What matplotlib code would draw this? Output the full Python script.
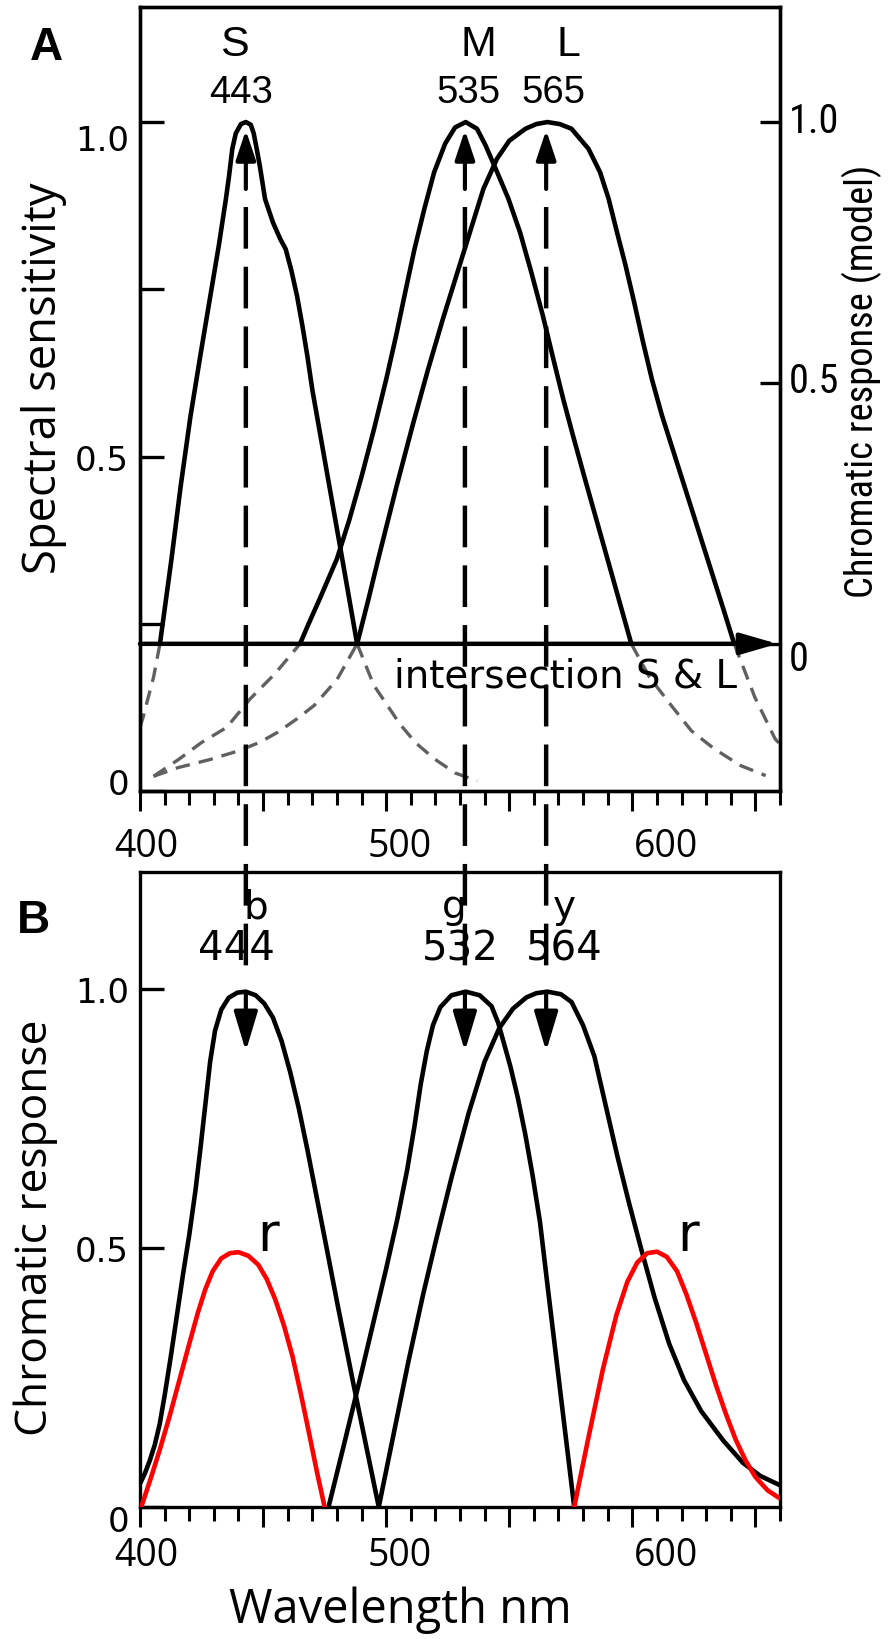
import numpy as np
import matplotlib
matplotlib.use("Agg")
import matplotlib.pyplot as plt
import matplotlib.transforms as mtransforms
from matplotlib import font_manager
from matplotlib.font_manager import FontProperties
from matplotlib.patches import ConnectionPatch

plt.rcParams['lines.scale_dashes'] = False


def find_condensed():
    pref = ['Liberation Sans Narrow', 'Roboto Condensed', 'Open Sans Condensed',
            'Noto Sans Condensed', 'Noto Sans', 'DejaVu Sans Condensed', 'Open Sans', 'Roboto']
    best = None
    for f in font_manager.fontManager.ttflist:
        nm, st = f.name, f.stretch
        cond = ('Narrow' in nm) or ('Condensed' in nm)
        if isinstance(st, str):
            cond = cond or st in ('condensed', 'semi-condensed')
        elif isinstance(st, (int, float)):
            cond = cond or (300 <= st < 500)
        if not cond or f.style != 'normal' or 'Mono' in nm or 'Serif' in nm:
            continue
        w = f.weight if isinstance(f.weight, (int, float)) else 400
        if w != 400:
            continue
        rank = next((i for i, p in enumerate(pref) if nm.startswith(p)), len(pref))
        if best is None or rank < best[0]:
            best = (rank, f.fname)
    return best[1] if best else None


_cond = find_condensed()
COND = FontProperties(fname=_cond) if _cond else FontProperties(family='Open Sans')

# ------------------------------------------------------------------ data
wl_min, wl_max = 400, 660
threshold_level = 0.22          # level of "intersection S & L" = zero of model axis

# Panel A: cone spectral sensitivities (left axis units)
S_nm = [400, 401.4, 403, 405.5, 408.1, 412.8, 416.5, 420.5, 424.7, 428.8,
        432, 434.9, 436.2, 437.5, 438.9, 441, 443, 445, 446.2, 447.4,
        448.7, 450.8, 454, 457, 459.2, 461.5, 463.8, 466, 468, 470,
        472.5, 476, 481.3, 488.2, 495, 505.6, 512, 519.6, 528, 537]
S_val = [0.095, 0.112, 0.135, 0.17, 0.22, 0.347, 0.455, 0.56, 0.655, 0.745,
         0.815, 0.885, 0.92, 0.96, 0.983, 0.997, 1.0, 0.996, 0.983, 0.96,
         0.934, 0.885, 0.85, 0.825, 0.81, 0.778, 0.74, 0.695, 0.65, 0.6,
         0.548, 0.475, 0.365, 0.22, 0.158, 0.1, 0.072, 0.048, 0.027, 0.015]

M_nm = [405.5, 416, 425, 435.2, 444.7, 455, 465, 468.5, 473.1, 480,
        485, 490, 495, 500, 504, 508, 511.5, 515.5, 519.5, 524,
        528, 532.3, 536.9, 540.4, 545.1, 549.7, 554.4, 559, 563.7, 568.3,
        572, 576, 580.8, 589.9, 599.6, 607, 615.9, 624, 633.3, 644, 654.2]
M_val = [0.022, 0.048, 0.0725, 0.095, 0.1375, 0.176, 0.22, 0.25, 0.288, 0.347,
         0.405, 0.47, 0.54, 0.615, 0.68, 0.75, 0.81, 0.87, 0.925, 0.968,
         0.992, 1.0, 0.99, 0.965, 0.925, 0.885, 0.835, 0.775, 0.71, 0.64,
         0.585, 0.53, 0.466, 0.347, 0.22, 0.17, 0.1275, 0.09, 0.063, 0.038, 0.023]

L_nm = [405.5, 415.5, 428.4, 440, 448.8, 456, 463.8, 470.8, 480.1, 488.2,
        492.9, 496.8, 504.4, 511, 517, 523, 528.5, 534, 539.5, 545,
        550, 556.6, 561, 565.5, 570.5, 575.3, 582.2, 586.9, 590.4, 593.8,
        597.3, 600.8, 604.3, 608, 612, 617, 622, 627, 632, 637, 641.4,
        649.8, 658, 660]
L_val = [0.022, 0.035, 0.047, 0.06, 0.073, 0.088, 0.108, 0.128, 0.167, 0.22,
         0.288, 0.347, 0.458, 0.55, 0.63, 0.705, 0.77, 0.835, 0.9, 0.945,
         0.972, 0.99, 0.997, 1.0, 0.997, 0.99, 0.96, 0.925, 0.885, 0.835,
         0.785, 0.73, 0.672, 0.615, 0.562, 0.504, 0.446, 0.388, 0.33, 0.272, 0.22,
         0.14, 0.078, 0.07]

# Panel B: chromatic responses
b_nm = [400, 402, 404, 406, 408, 410, 412.5, 415, 417.5, 420,
        422.5, 424.5, 426.5, 428.5, 430.5, 433, 436, 439.5, 443, 447,
        450.5, 454, 457.5, 461, 464.5, 468, 471.5, 475, 480.5, 486.6,
        492, 497]
b_val = [0.045, 0.065, 0.09, 0.12, 0.16, 0.215, 0.29, 0.37, 0.45, 0.525,
         0.61, 0.69, 0.775, 0.86, 0.92, 0.96, 0.983, 0.993, 0.995, 0.988,
         0.972, 0.945, 0.9, 0.84, 0.77, 0.69, 0.605, 0.52, 0.385, 0.24,
         0.115, 0.0]

g_nm = [476.6, 483, 489, 495, 500, 504.5, 508.5, 511.5, 514, 516.5,
        519, 522, 526.5, 532.3, 538, 542.8, 545.5, 547.4, 550.5, 553.5,
        556.5, 559.5, 562.5, 566, 569.5, 573, 576.4]
g_val = [0.0, 0.123, 0.24, 0.36, 0.46, 0.555, 0.65, 0.735, 0.815, 0.88,
         0.93, 0.965, 0.988, 0.995, 0.988, 0.967, 0.935, 0.903, 0.85, 0.79,
         0.72, 0.64, 0.55, 0.41, 0.272, 0.134, 0.0]

y_nm = [497, 503, 509, 515, 520.5, 526.5, 533.5, 540, 546, 551.5,
        557, 561, 565.5, 571, 575.3, 580, 584.6, 589.2, 593.8, 598.5,
        603.5, 609, 615, 621, 628, 637, 645, 652, 660]
y_val = [0.0, 0.14, 0.28, 0.41, 0.52, 0.635, 0.76, 0.86, 0.925, 0.962,
         0.984, 0.992, 0.995, 0.99, 0.975, 0.93, 0.87, 0.775, 0.68, 0.59,
         0.5, 0.405, 0.315, 0.245, 0.185, 0.128, 0.085, 0.06, 0.042]

r1_nm = [400.5, 404, 408, 412, 416, 420, 423.5, 426.5, 429.5, 433,
         436.5, 440, 444, 448, 451.5, 455, 458.5, 462, 465.5, 469,
         472, 475]
r1_val = [0.0, 0.05, 0.11, 0.175, 0.245, 0.315, 0.375, 0.42, 0.455, 0.48,
          0.49, 0.492, 0.485, 0.468, 0.44, 0.4, 0.35, 0.29, 0.215, 0.135,
          0.065, 0.0]

r2_nm = [576.4, 582, 588, 593.5, 598, 602, 606, 610, 614, 618.2,
         622, 626, 630, 634, 638, 642, 646, 650, 655, 659.5]
r2_val = [0.0, 0.13, 0.265, 0.37, 0.435, 0.472, 0.49, 0.493, 0.483, 0.455,
          0.41, 0.355, 0.295, 0.235, 0.18, 0.13, 0.09, 0.058, 0.032, 0.018]

peak_nm = [443, 532, 565]
A_names = ['S', 'M', 'L']
A_peaks = ['443', '535', '565']
B_names = ['b', 'g', 'y']
B_peaks = ['444', '532', '564']

# ------------------------------------------------------------------ figure
W, H = 896, 1640
fig = plt.figure(figsize=(W / 100, H / 100), dpi=100)


def axrect(l, t, r, b):
    return [l / W, 1 - b / H, (r - l) / W, (b - t) / H]


axA = fig.add_axes(axrect(140, 8, 780, 792))
axB = fig.add_axes(axrect(140, 873, 780, 1508))

A_top = 1.172
B_top = 1.226
T = threshold_level
axA.set_xlim(wl_min, wl_max)
axA.set_ylim(0, A_top)
axB.set_xlim(wl_min, wl_max)
axB.set_ylim(0, B_top)

axR = axA.twinx()
axR.set_ylim((0 - T) / (1 - T), (A_top - T) / (1 - T))

LW = 3.3
GRAY = '#606060'

# ---- panel A curves: solid above threshold, grey dashed below
for nm, val in [(S_nm, S_val), (M_nm, M_val), (L_nm, L_val)]:
    nm = np.asarray(nm, float)
    val = np.asarray(val, float)
    solid = np.where(val >= T - 1e-9, val, np.nan)
    dashed = np.where(val <= T + 1e-9, val, np.nan)
    axA.plot(nm, solid, color='black', lw=LW, solid_capstyle='round',
             solid_joinstyle='round', zorder=3)
    axA.plot(nm, dashed, color=GRAY, lw=2.4, linestyle=(0, (10.5, 6.5)),
             dash_capstyle='butt', zorder=2)

# horizontal arrow (zero of model axis)
axA.annotate('', xy=(659, T), xytext=(wl_min, T),
             arrowprops=dict(arrowstyle='-|>,head_length=1.9,head_width=0.55',
                             mutation_scale=12, lw=3.2, color='black',
                             shrinkA=0, shrinkB=0), zorder=4)
t_int = axA.text(503.2, 0.173, 'intersection S & L', ha='left', va='center',
                 fontsize=28, fontfamily='DejaVu Sans')

# peak labels & up arrows in A
for x in peak_nm:
    axA.annotate('', xy=(x, 0.988), xytext=(x, 0.90),
                 arrowprops=dict(arrowstyle='-|>,head_length=1.5,head_width=0.5',
                                 mutation_scale=12, lw=3.0, color='black',
                                 shrinkA=0, shrinkB=0), zorder=5)
for x, s in zip([438.5, 537.5, 574.0], A_names):
    axA.text(x, 1.1166, s, ha='center', va='center', fontsize=31, fontfamily='Liberation Sans')
for x, s in zip([441.0, 533.3, 567.9], A_peaks):
    axA.text(x, 1.0456, s, ha='center', va='center', fontsize=27.5, fontfamily='Liberation Sans')

# ---- panel B curves
for nm, val in [(b_nm, b_val), (g_nm, g_val), (y_nm, y_val)]:
    axB.plot(nm, val, color='black', lw=LW, solid_joinstyle='round', zorder=3)
for nm, val in [(r1_nm, r1_val), (r2_nm, r2_val)]:
    axB.plot(nm, val, color='#ff0000', lw=LW, solid_joinstyle='round', zorder=4)

for x in peak_nm:
    axB.annotate('', xy=(x, 0.88), xytext=(x, 0.994),
                 arrowprops=dict(arrowstyle='-|>,head_length=2.0,head_width=0.6',
                                 mutation_scale=12, lw=3.0, color='black',
                                 shrinkA=0, shrinkB=0), zorder=5)

for x, s in zip([447.0, 527.6, 572.4], B_names):
    axB.text(x, 1.139, s, ha='center', va='baseline', fontsize=28, fontfamily='DejaVu Sans')
for x, s in zip([439.0, 530.0, 572.4], B_peaks):
    axB.text(x, 1.079, s, ha='center', va='center', fontsize=29, fontfamily='DejaVu Sans')
for x in (452.2, 622.8):
    axB.text(x, 0.525, 'r', ha='center', va='center', fontsize=38, fontfamily='DejaVu Sans')

# ---- dashed vertical connectors between the panels
yA_start = (792 - 208) / 784
yB_end = (1508 - 983) / 635
for x in peak_nm:
    con = ConnectionPatch(xyA=(x, yA_start), coordsA=axA.get_xaxis_transform(),
                          xyB=(x, yB_end), coordsB=axB.get_xaxis_transform(),
                          color='black', lw=3.2, linestyle=(0, (30, 13)),
                          capstyle='butt', zorder=10)
    fig.add_artist(con)

# ---- axes styling
for ax in (axA, axB, axR):
    for sp in ax.spines.values():
        sp.set_linewidth(2.4)

xt_major = np.arange(400, 651, 50)
xt_minor = np.arange(400, 661, 10)
xt_labels = ['400', '', '500', '', '600', '']
for ax, pad in ((axA, 11.5), (axB, 6.5)):
    ax.set_xticks(xt_major)
    ax.set_xticklabels(xt_labels, fontfamily='Open Sans', fontsize=27)
    ax.set_xticks(xt_minor, minor=True)
    ax.tick_params(axis='x', which='major', direction='out', length=14.4, width=2.2, pad=pad)
    ax.tick_params(axis='x', which='minor', direction='out', length=10, width=2.2)

axA.set_yticks([0, 0.25, 0.5, 0.75, 1.0])
axA.set_yticklabels(['0', '', '0.5', '', '1.0'], fontfamily='DejaVu Sans', fontsize=24.5)
axA.tick_params(axis='y', direction='in', length=17, width=2.4, pad=8)

axB.set_yticks([0, 0.5, 1.0])
axB.set_yticklabels(['0', '0.5', '1.0'], fontfamily='DejaVu Sans', fontsize=24.5)
axB.tick_params(axis='y', direction='in', length=17, width=2.4, pad=8)

axR.set_yticks([0, 0.5, 1.0])
axR.set_yticklabels(['0', '0.5', '1.0'])
for lbl in axR.get_yticklabels():
    lbl.set_fontproperties(COND)
    lbl.set_fontsize(29)
axR.tick_params(axis='y', direction='in', length=14.4, width=2.4, pad=6.5)

# axis labels
axA.set_ylabel('Spectral sensitivity', fontfamily='Open Sans', fontsize=32, va='center', ha='center')
axA.yaxis.set_label_coords((44 - 140) / 640, (792 - 378) / 784)
axR.set_ylabel('Chromatic response (model)', va='center', ha='center', rotation=90)
axR.yaxis.label.set_fontproperties(COND)
axR.yaxis.label.set_fontsize(30)
axR.yaxis.set_label_coords((862 - 140) / 640, (792 - 381) / 784)
axB.set_ylabel('Chromatic response', fontfamily='Open Sans', fontsize=32, va='center', ha='center')
axB.yaxis.set_label_coords((36 - 140) / 640, (1508 - 1228) / 635)
axB.set_xlabel('Wavelength nm', fontfamily='Open Sans', fontsize=34, va='center', ha='center')
axB.xaxis.set_label_coords((400 - 140) / 640, (1508 - 1610) / 635)

fig.text(46 / W, 1 - 48 / H, 'A', fontsize=33, fontweight='bold', fontfamily='Liberation Sans',
         ha='center', va='center')
fig.text(33 / W, 1 - 921 / H, 'B', fontsize=33, fontweight='bold', fontfamily='Liberation Sans',
         ha='center', va='center')

# ---- fit a few texts to the lengths measured on the reference
fig.canvas.draw()
rend = fig.canvas.get_renderer()


def fit(txt, target, horizontal=True):
    bb = txt.get_window_extent(rend)
    cur = bb.width if horizontal else bb.height
    if cur > 0:
        txt.set_fontsize(txt.get_fontsize() * target / cur)


fit(axR.yaxis.label, 433, horizontal=False)
fit(axA.yaxis.label, 392, horizontal=False)
fit(axB.yaxis.label, 417, horizontal=False)
fit(axB.xaxis.label, 343)
fit(t_int, 343)


# ---- small per-label nudges (px) to follow the reference placement
def nudge(labels, shifts):
    for lbl, (dx, dy) in zip(labels, shifts):
        lbl.set_transform(lbl.get_transform() +
                          mtransforms.ScaledTranslation(dx / 100, dy / 100, fig.dpi_scale_trans))


for ax in (axA, axB):
    nudge(ax.get_xticklabels(), [(6, 0), (0, 0), (14, 0), (0, 0), (34, 0), (0, 0)])
nudge(axA.get_yticklabels(), [(0, 10), (0, 0), (0, 0), (0, 0), (0, -15)])
nudge(axB.get_yticklabels(), [(0, -11), (0, 0), (0, 0)])
nudge(axR.get_yticklabels(), [(0, -11), (0, 6), (0, 6)])

fig.savefig('out.png', dpi=100)
